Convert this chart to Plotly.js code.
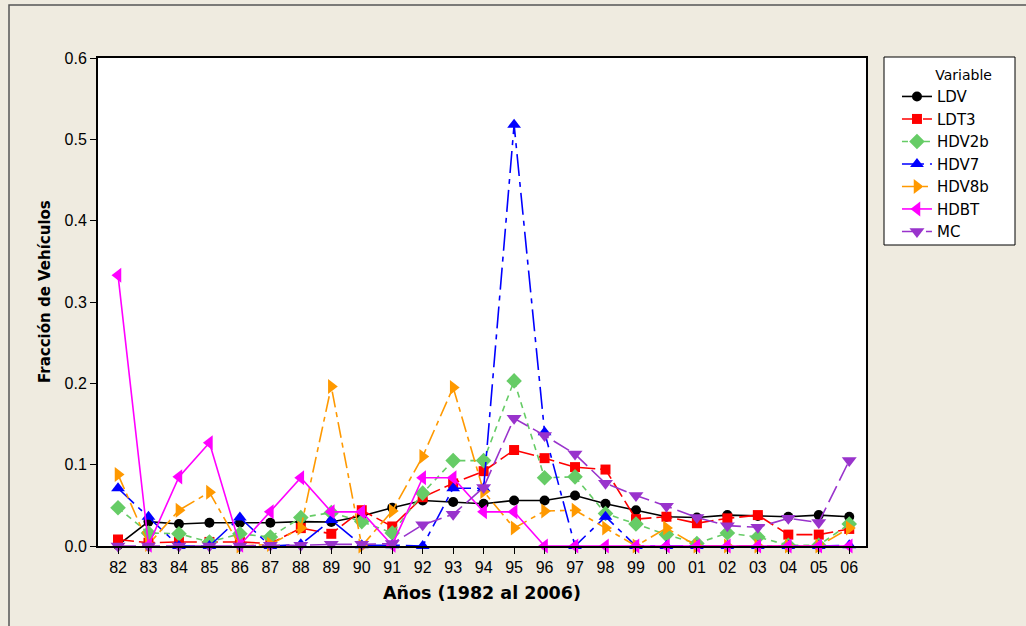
<!DOCTYPE html>
<html><head><meta charset="utf-8">
<script src="https://cdn.plot.ly/plotly-3.0.1.min.js"></script>
<style>html,body{margin:0;padding:0;background:#efebe0;}#chart{width:1026px;height:626px;}</style>
</head><body><div id="chart"></div>
<script>
const years = ['82','83','84','85','86','87','88','89','90','91','92','93','94','95','96','97','98','99','00','01','02','03','04','05','06'];
const LDV   = [0.001,0.030,0.027,0.0285,0.0285,0.0285,0.030,0.0295,0.037,0.047,0.056,0.054,0.052,0.056,0.056,0.062,0.052,0.044,0.036,0.035,0.038,0.037,0.036,0.038,0.036];
const LDT3  = [0.008,0.004,0.005,0.005,0.005,0.003,0.022,0.015,0.044,0.024,0.060,0.077,0.092,0.118,0.108,0.097,0.094,0.033,0.036,0.028,0.034,0.038,0.014,0.014,0.021];
const HDV2b = [0.047,0.016,0.015,0.005,0.015,0.011,0.035,0.041,0.030,0.016,0.065,0.105,0.105,0.203,0.084,0.085,0.040,0.027,0.014,0.003,0.016,0.011,0.001,0.001,0.027];
const HDV7  = [0.071,0.036,0,0,0.035,0,0.002,0.032,0.001,0.001,0,0.071,0.071,0.518,0.140,0,0.036,0,0,0,0,0,0,0,0.001];
const HDV8b = [0.088,0.002,0.044,0.066,0,0.002,0.022,0.196,0,0.043,0.110,0.195,0.067,0.022,0.043,0.044,0.022,0,0.022,0,0,0,0,0,0.022];
const HDBT  = [0.333,0.001,0.085,0.127,0.001,0.042,0.084,0.042,0.042,0.001,0.084,0.084,0.042,0.042,0,0,0,0,0,0,0,0,0,0,0];
const MC    = [0,0,0,0,0,0.001,0.001,0.002,0.002,0.003,0.026,0.039,0.072,0.157,0.136,0.113,0.077,0.062,0.049,0.035,0.025,0.023,0.034,0.029,0.105];

function tr(name, y, color, dash, symbol, size){
  return {x: years, y: y, name: name, type: 'scatter', mode: 'lines+markers', cliponaxis: false,
    line: {color: color, width: 1.6, dash: dash},
    marker: {color: color, symbol: symbol, size: size}};
}
const data = [
  tr('LDV', LDV, '#000000', 'solid', 'circle', 10),
  tr('LDT3', LDT3, '#ff0000', '16px,5px', 'square', 10),
  tr('HDV2b', HDV2b, '#66cc66', '6px,5px', 'diamond', 12),
  tr('HDV7', HDV7, '#0000ff', '22px,6px,5px,6px', 'triangle-up', 12),
  tr('HDV8b', HDV8b, '#ff9900', '16px,5px,5px,5px', 'triangle-right', 13),
  tr('HDBT', HDBT, '#ff00ff', 'solid', 'triangle-left', 13),
  tr('MC', MC, '#9933cc', '18px,6px', 'triangle-down', 13)
];
const layout = {
  width: 1026, height: 626,
  paper_bgcolor: '#efebe0', plot_bgcolor: '#ffffff',
  margin: {l: 98, r: 160, t: 58, b: 80},
  font: {family: 'DejaVu Sans, sans-serif', color: '#000'},
  showlegend: true,
  legend: {x: 1.0234, y: 0.9918, xanchor: 'left', yanchor: 'top',
    bgcolor: 'rgba(0,0,0,0)', borderwidth: 0, indentation: 13,
    font: {size: 15, family: 'DejaVu Sans, sans-serif'},
    title: {text: 'Variable', side: 'top right', font: {size: 14}}},
  xaxis: {type: 'category', range: [-0.657, 24.55], showgrid: false, zeroline: false,
    showline: true, linecolor: '#000', linewidth: 2, mirror: true,
    ticks: 'outside', ticklen: 6, tickcolor: '#000', tickfont: {size: 16, family: 'Liberation Sans, Arial, sans-serif'},
    title: {text: '<b>Años (1982 al 2006)</b>', font: {size: 17.5}, standoff: 12}},
  yaxis: {range: [0, 0.6], dtick: 0.1, tickformat: '.1f', showgrid: false, zeroline: false,
    showline: true, linecolor: '#000', linewidth: 2, mirror: true,
    ticks: 'outside', ticklen: 6, tickcolor: '#000', tickfont: {size: 16, family: 'Liberation Sans, Arial, sans-serif'},
    title: {text: ''}},
  annotations: [
    {text: '<b>Fracción de Vehículos</b>', xref: 'paper', yref: 'paper', x: (45 - 98) / 768, y: (546 - 292) / 488,
     xanchor: 'center', yanchor: 'middle', textangle: -90, showarrow: false, font: {size: 15}}
  ],
  shapes: [
    {type: 'rect', xref: 'paper', yref: 'paper', x0: (9 - 98) / 768, x1: 1.25, y0: -0.2, y1: (546 - 5) / 488,
     line: {color: '#555', width: 1.5}, fillcolor: 'rgba(0,0,0,0)', layer: 'below'},
    {type: 'rect', xref: 'paper', yref: 'paper', x0: (884 - 98) / 768, x1: (1015 - 98) / 768, y0: (546 - 245) / 488, y1: (546 - 57) / 488,
     line: {color: '#000', width: 1}, fillcolor: '#ffffff', layer: 'below'}
  ]
};
Plotly.newPlot('chart', data, layout, {displayModeBar: false});
</script></body></html>
